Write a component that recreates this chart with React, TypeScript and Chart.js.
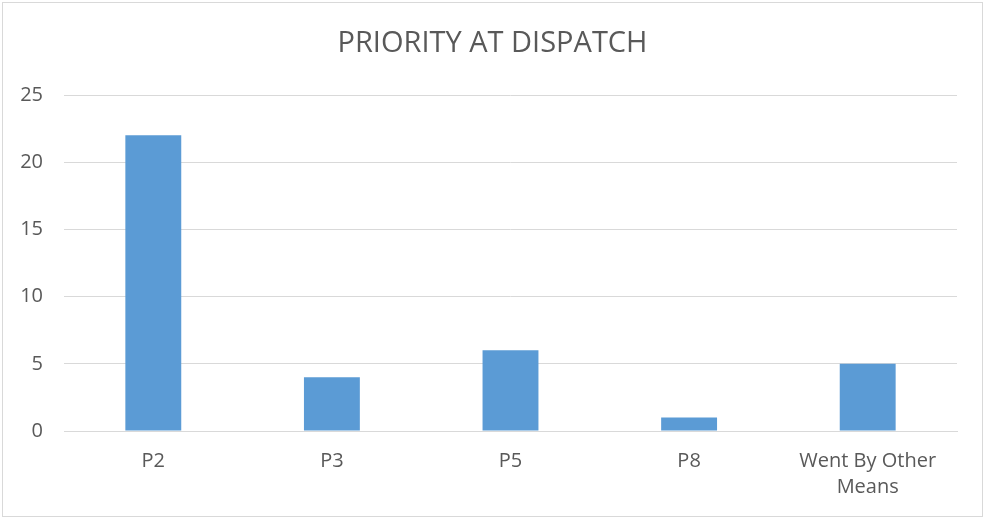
import React, { useEffect, useRef } from "react";
import { Chart, registerables } from "chart.js";

Chart.register(...registerables);

const categories: (string | string[])[] = ["P2", "P3", "P5", "P8", ["Went By Other", "Means"]];
const counts: number[] = [22, 4, 6, 1, 5];
const yTicks: number[] = [0, 5, 10, 15, 20, 25];
const chartTitle = "PRIORITY AT DISPATCH";

const W = 985;
const H = 518;
const TEXT = "#595959";
const GRID = "#d9d9d9";
const BAR = "#5b9bd5";

const framePlugin = {
  id: "frame",
  beforeDraw(chart: any) {
    const ctx = chart.ctx;
    ctx.save();
    ctx.fillStyle = "#ffffff";
    ctx.fillRect(0, 0, chart.width, chart.height);
    ctx.strokeStyle = GRID;
    ctx.lineWidth = 1;
    ctx.strokeRect(2.5, 2.5, chart.width - 5, chart.height - 4);
    ctx.restore();
  },
};

export default function App() {
  const ref = useRef<HTMLCanvasElement | null>(null);

  useEffect(() => {
    if (!ref.current) return;
    const chart = new Chart(ref.current, {
      type: "bar",
      data: {
        labels: categories,
        datasets: [
          {
            data: counts,
            backgroundColor: BAR,
            borderWidth: 0,
            barPercentage: 0.313,
            categoryPercentage: 1,
          },
        ],
      },
      plugins: [framePlugin],
      options: {
        responsive: false,
        animation: false,
        layout: { padding: { top: 26, right: 0, bottom: 0, left: 0 } },
        plugins: {
          legend: { display: false },
          tooltip: { enabled: false },
          title: {
            display: true,
            text: chartTitle,
            color: TEXT,
            font: { family: "'Open Sans', sans-serif", size: 29, weight: "normal", lineHeight: 1.2 },
            padding: { top: 0, bottom: 95 - 26 - 29 * 1.2 },
          },
        },
        scales: {
          x: {
            grid: { display: false, drawTicks: false },
            border: { display: true, color: GRID, width: 1 },
            ticks: {
              color: TEXT,
              padding: 17,
              maxRotation: 0,
              autoSkip: false,
              font: { family: "'Open Sans', sans-serif", size: 20, lineHeight: 1.3 },
            },
            afterFit(scale: any) {
              scale.height = 87;
            },
          },
          y: {
            min: 0,
            max: 25,
            afterBuildTicks(scale: any) {
              scale.ticks = yTicks.map((v) => ({ value: v }));
            },
            grid: { color: GRID, lineWidth: 1, drawTicks: false },
            border: { display: false },
            ticks: {
              color: TEXT,
              padding: 21,
              font: { family: "'Open Sans', sans-serif", size: 20 },
            },
            afterFit(scale: any) {
              scale.width = 64;
            },
          },
          spacer: {
            type: "linear",
            position: "right",
            display: true,
            grid: { display: false, drawTicks: false },
            border: { display: false },
            ticks: { display: false },
            afterFit(scale: any) {
              scale.width = 28;
            },
          },
        },
      },
    });
    return () => chart.destroy();
  }, []);

  return (
    <div style={{ position: "absolute", left: 0, top: 0, width: W, height: H }}>
      <canvas ref={ref} width={W} height={H} style={{ width: W, height: H, display: "block" }} />
    </div>
  );
}
